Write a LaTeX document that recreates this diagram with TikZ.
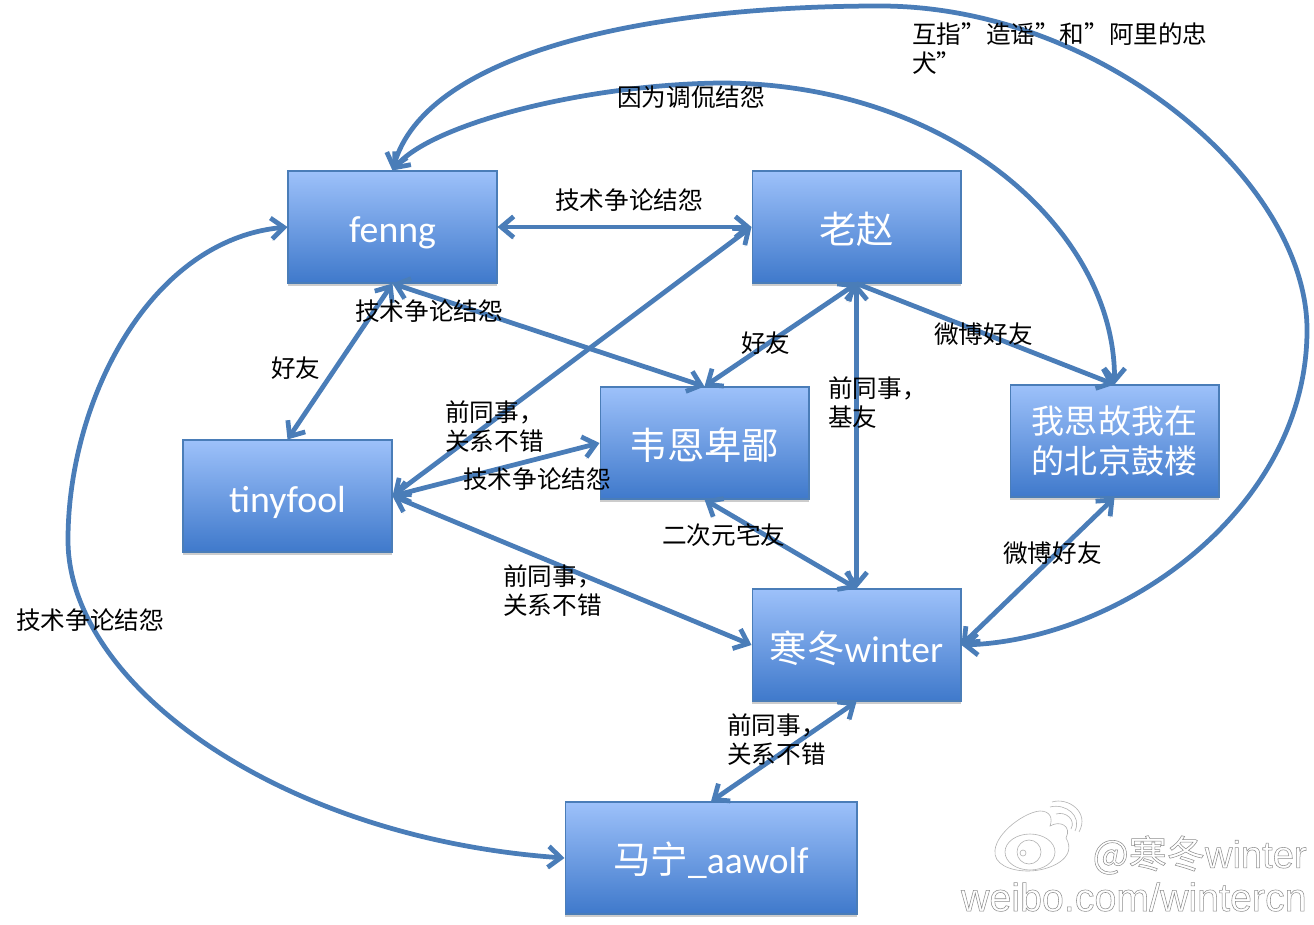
\documentclass[tikz,border=0pt]{standalone}
\usepackage{fontspec}
\setmainfont{Carlito}
\newfontfamily\cjkfont{Noto Sans CJK SC}
\newfontfamily\markfont{Liberation Sans}
\usetikzlibrary{arrows.meta,shadows}
\definecolor{linkblue}{HTML}{4A7DB8}
\definecolor{boxtop}{HTML}{9DC1FA}
\definecolor{boxbottom}{HTML}{3F79CB}
\newcommand{\lowertext}[2]{\raisebox{-#1}[\height][\depth]{#2}}
\newcommand{\outlinetext}[1]{\special{pdf:code 1 Tr 0.3 w 0.55 G}#1\special{pdf:code 0 Tr}}
\tikzset{
    personbox/.style={draw=linkblue, line width=0.6pt, top color=boxtop, bottom color=boxbottom,
        drop shadow={opacity=0.4, shadow xshift=0pt, shadow yshift=-1.5pt},
        minimum width=4.18cm, minimum height=2.24cm,
        text=white, font=\fontsize{21.3}{25}\selectfont\cjkfont, align=center, inner sep=0pt},
    linkshadow/.style={preaction={draw=black, opacity=0.15, transform canvas={yshift=-0.9pt}}},
    link/.style={draw=linkblue, line width=0.095cm, linkshadow,
        {Straight Barb[length=2.5mm,width=4.2mm]}-{Straight Barb[length=2.5mm,width=4.2mm]}},
    linkto/.style={draw=linkblue, line width=0.095cm, linkshadow, -{Straight Barb[length=2.5mm,width=4.2mm]}},
    linklabel/.style={anchor=west, inner sep=0pt, align=left, text=black,
        font=\fontsize{14}{16.6}\selectfont\cjkfont},
    markline/.style={draw=black!30, line width=0.35pt},
    marktext/.style={anchor=east, inner sep=0pt},
}
\begin{document}
\begin{tikzpicture}[x=0.02cm, y=-0.02cm]
    \useasboundingbox (0,0) rectangle (1314,925);

    % Boxes
    \node[personbox] (fenng) at (392.5,227) {\lowertext{0.12cm}{\normalfont\fontsize{21.5}{25}\selectfont fenng}};
    \node[personbox] (laozhao) at (856.5,227) {\lowertext{0.05cm}{老赵}};
    \node[personbox] (weien) at (704.5,443) {\lowertext{0.05cm}{韦恩卑鄙}};
    \node[personbox, font=\fontsize{18.8}{22.7}\selectfont\cjkfont] (gulou) at (1114.5,441) {我思故我在\\的北京鼓楼};
    \node[personbox] (tinyfool) at (287.5,496) {\lowertext{0.12cm}{\normalfont\fontsize{21.5}{25}\selectfont tinyfool}};
    \node[personbox] (winter) at (856.5,645) {\lowertext{0.06cm}{寒冬{\normalfont winter}}};
    \node[personbox, minimum width=5.84cm] (maning) at (711,858) {\lowertext{0.05cm}{马宁{\normalfont\_aawolf}}};

    % Straight connectors
    \draw[link] (fenng.east) -- (laozhao.west);
    \draw[link] (fenng.south) -- (tinyfool.north);
    \draw[link] (fenng.south) -- (weien.north);
    \draw[link] (laozhao.west) -- (tinyfool.east);
    \draw[link] (laozhao.south) -- (weien.north);
    \draw[link] (laozhao.south) -- (winter.north);
    \draw[linkto] (laozhao.south) -- (gulou.north);
    \draw[link] (tinyfool.east) -- (weien.west);
    \draw[link] (tinyfool.east) -- (winter.west);
    \draw[link] (weien.south) -- (winter.north);
    \draw[link] (gulou.south) -- (winter.east);
    \draw[link] (winter.south) -- (maning.north);

    % Curved connectors
    \draw[link] (fenng.north) .. controls (425,55) and (640,6) .. (880,6)
        .. controls (1100,6) and (1307,180) .. (1307,330)
        .. controls (1307,510) and (1120,640) .. (winter.east);
    \draw[link] (fenng.north) .. controls (430,125) and (580,85) .. (720,83)
        .. controls (950,83) and (1115,230) .. (gulou.north);
    \draw[link] (fenng.west) .. controls (150,240) and (68,400) .. (68,540)
        .. controls (68,685) and (280,838) .. (maning.west);

    % Labels
    \node[linklabel] (lbla) at (617,97) {因为调侃结怨};
    \node[linklabel, text width=6.1cm] (lblb) at (912,48.5) {互指”造谣”和”阿里的忠\\犬”};
    \node[linklabel] (lblc) at (555,200) {技术争论结怨};
    \node[linklabel] (lbld) at (355,311) {技术争论结怨};
    \node[linklabel] (lble) at (271,368) {好友};
    \node[linklabel] (lblf) at (741,343) {好友};
    \node[linklabel] (lblg) at (934,334) {微博好友};
    \node[linklabel] (lblh) at (828,403) {前同事，\\基友};
    \node[linklabel] (lbli) at (445,426.5) {前同事，\\关系不错};
    \node[linklabel] (lblj) at (463,479) {技术争论结怨};
    \node[linklabel] (lblk) at (662,535) {二次元宅友};
    \node[linklabel] (lbll) at (1003,553) {微博好友};
    \node[linklabel] (lblm) at (503,590.5) {前同事，\\关系不错};
    \node[linklabel] (lbln) at (727,739.5) {前同事，\\关系不错};
    \node[linklabel] (lblo) at (16,620) {技术争论结怨};

    % Watermark
    \draw[markline] (995,850) .. controls (997,832) and (1025,812) .. (1040,811)
        .. controls (1050,811) and (1053,818) .. (1050,826)
        .. controls (1060,820) and (1072,826) .. (1066,838)
        .. controls (1078,858) and (1050,871) .. (1028,871)
        .. controls (1010,871) and (993,864) .. (995,850) -- cycle;
    \draw[markline] (1030,852) ellipse (25 and 18);
    \draw[markline] (1029,852) circle (12);
    \draw[markline] (1023,853) circle (3);
    \draw[markline] (1052,802) .. controls (1068,797) and (1090,812) .. (1079,832);
    \draw[markline] (1050,807) .. controls (1066,803) and (1082,816) .. (1075,831);
    \draw[markline] (1056,814) .. controls (1066,811) and (1076,820) .. (1071,829);
    \node[marktext, font=\fontsize{21.7}{25}\selectfont\cjkfont] (markname) at (1307,855) {\outlinetext{@寒冬{\markfont winter}}};
    \node[marktext, font=\fontsize{22.4}{26}\selectfont\markfont] (markurl) at (1307,897) {\outlinetext{weibo.com/wintercn}};
\end{tikzpicture}
\end{document}
